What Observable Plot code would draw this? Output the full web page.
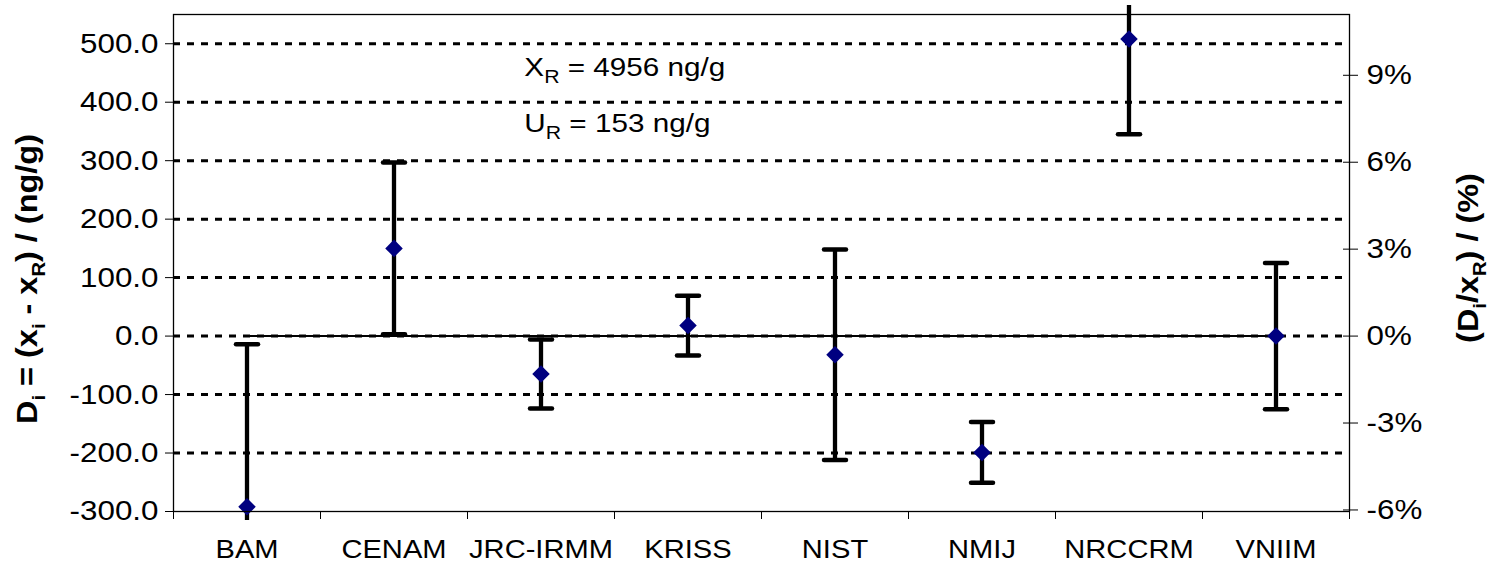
<!DOCTYPE html>
<html><head><meta charset="utf-8">
<script src="https://cdn.jsdelivr.net/npm/d3@7"></script>
<script src="https://cdn.jsdelivr.net/npm/@observablehq/plot@0.6"></script>
<style>
body{margin:0;background:#fff;}
svg text{font-family:"Liberation Sans", Arial, sans-serif;}
</style></head><body><div id="chart"></div>
<script>
const labs = ["BAM","CENAM","JRC-IRMM","KRISS","NIST","NMIJ","NRCCRM","VNIIM"];
const di = [-292, 150, -65, 18, -32, -199, 508, 0];
const ui = [278, 147, 59, 51, 180, 52, 163, 125];
const xR = 4956;
const uR = 153;
const leftTicks = [-300,-200,-100,0,100,200,300,400,500];
const gridVals = [-200,-100,0,100,200,300,400,500];
const pctTicks = [-6,-3,0,3,6,9];
const refValue = 0;

const STRETCH = 1.12;
const data = labs.map((lab,i)=>({lab, pos:i+0.5, d:di[i], lo:di[i]-ui[i], hi:di[i]+ui[i]}));
const boundaries = d3.range(labs.length+1);
const capSymbol = {draw(ctx){ctx.moveTo(-11,0);ctx.lineTo(11,0);}};

const plot = Plot.plot({
  width:1492, height:570,
  marginLeft:173, marginRight:143, marginTop:14, marginBottom:59,
  style:{fontFamily:"Liberation Sans, Arial, sans-serif", background:"#fff", color:"#000"},
  x:{type:"linear", domain:[0, labs.length]},
  y:{domain:[-300,550]},
  marks:[
    Plot.ruleY(gridVals, {stroke:"#000", strokeWidth:3, strokeDasharray:"7,7"}),
    Plot.line(data, {x:"pos", y:()=>refValue, stroke:"#000", strokeWidth:2}),
    Plot.ruleX(data, {x:"pos", y1:"lo", y2:"hi", stroke:"#000", strokeWidth:4.3, clip:"frame"}),
    Plot.dot(data, {x:"pos", y:"lo", symbol:capSymbol, stroke:"#000", fill:"none", strokeWidth:4.5, strokeLinecap:"round", clip:"frame"}),
    Plot.dot(data, {x:"pos", y:"hi", symbol:capSymbol, stroke:"#000", fill:"none", strokeWidth:4.5, strokeLinecap:"round", clip:"frame"}),
    Plot.dot(data, {x:"pos", y:"d", symbol:"diamond2", r:7.9, fill:"#000080", stroke:"none"}),
    Plot.frame({stroke:"#000", strokeWidth:1.3}),
    Plot.axisY(leftTicks, {anchor:"left", tickSize:8, tickPadding:7, tickFormat:d=>d.toFixed(1), fontSize:28, label:null}),
    Plot.axisY(pctTicks.map(p=>p/100*xR), {anchor:"right", tickSize:15, dx:-7, tickPadding:9, tickFormat:v=>Math.round(v/xR*100)+"%", fontSize:28, label:null}),
    Plot.axisX(boundaries, {anchor:"bottom", tickSize:8, tickFormat:()=>"", label:null}),
    Plot.axisX(data.map(d=>d.pos), {anchor:"bottom", tickSize:0, tickPadding:28, tickFormat:v=>labs[Math.floor(v)], fontSize:26, label:null})
  ]
});
document.getElementById("chart").appendChild(plot);

// let error bars run a few pixels past the frame, like the original
plot.querySelectorAll("clipPath rect").forEach(r=>{
  const y=+r.getAttribute("y"), h=+r.getAttribute("height");
  r.setAttribute("y", y-9); r.setAttribute("height", h+18);
});

// widen the glyphs slightly (the original lettering is broad)
plot.querySelectorAll("text").forEach(t=>{
  if(!t.textContent) return;
  const tr = t.getAttribute("transform");
  if(tr){ t.setAttribute("transform", tr+` scale(${STRETCH},1)`); }
  else {
    const x=+(t.getAttribute("x")||0), y=+(t.getAttribute("y")||0);
    t.removeAttribute("x"); t.removeAttribute("y");
    t.setAttribute("transform", `translate(${x},${y}) scale(${STRETCH},1)`);
  }
});

const svg = d3.select(plot);
const ys = plot.scale("y");
const xs = plot.scale("x");

function rich(g, parts, size, subSize){
  let shifted = false;
  const sh = size*0.28;
  parts.forEach(([t,sub])=>{
    const ts = g.append("tspan").attr("font-size", sub ? subSize : size).text(t);
    if(sub && !shifted){ ts.attr("dy", sh); shifted = true; }
    else if(!sub && shifted){ ts.attr("dy", -sh); shifted = false; }
  });
}

// left axis title
const lt = svg.append("text").attr("transform",`translate(37,279) rotate(-90) scale(${STRETCH},1)`)
  .attr("text-anchor","middle").attr("font-weight","bold").attr("fill","#000");
rich(lt, [["D"],["i",1],[" = (x"],["i",1],[" - x"],["R",1],[") / (ng/g)"]], 29, 18);

// right axis title
const rt = svg.append("text").attr("transform",`translate(1478,258) rotate(-90) scale(${STRETCH},1)`)
  .attr("text-anchor","middle").attr("font-weight","bold").attr("fill","#000");
rich(rt, [["(D"],["i",1],["/x"],["R",1],[") / (%)"]], 29, 18);

// annotations
const a1 = svg.append("text").attr("text-anchor","start")
  .attr("transform",`translate(${xs.apply(2.39)},${ys.apply(450)}) scale(${STRETCH},1)`)
  .attr("dy","0.35em").attr("fill","#000");
rich(a1, [["X"],["R",1],[" = "+xR+" ng/g"]], 26.5, 19);
const a2 = svg.append("text").attr("text-anchor","start")
  .attr("transform",`translate(${xs.apply(2.39)},${ys.apply(355)}) scale(${STRETCH},1)`)
  .attr("dy","0.35em").attr("fill","#000");
rich(a2, [["U"],["R",1],[" = "+uR+" ng/g"]], 26.5, 19);
</script></body></html>
